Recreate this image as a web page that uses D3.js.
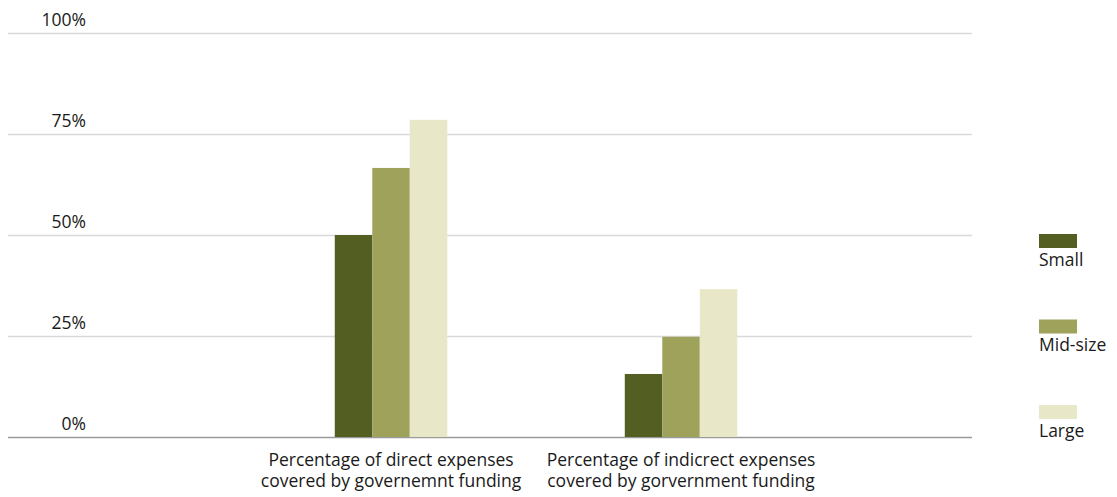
<!DOCTYPE html>
<html>
<head>
<meta charset="utf-8">
<script src="https://cdn.jsdelivr.net/npm/d3@7"></script>
<style>
    body { margin: 0; background: #fff; }
    text { font-family: "Open Sans", "Noto Sans", sans-serif; fill: #1a1a1a; }
</style>
</head>
<body>
<div id="chart"></div>
<script>
// Chart data
const categories = [
    ["Percentage of direct expenses", "covered by governemnt funding"],
    ["Percentage of indicrect expenses", "covered by gorvernment funding"],
];
const seriesNames = ["Small", "Mid-size", "Large"];
const small = [50, 15.6];
const midSize = [66.6, 24.8];
const large = [78.5, 36.6];
const yTicks = [0, 25, 50, 75, 100];

const colors = ["#525e22", "#9ea25b", "#e8e8c8"];
const seriesValues = [small, midSize, large];

const width = 1117;
const height = 497;
const fontSize = "17.5px";

const svg = d3
    .select("#chart")
    .append("svg")
    .attr("width", width)
    .attr("height", height);

// Scales
const y = d3.scaleLinear().domain([0, 100]).range([437, 33]);

const x0 = d3
    .scaleBand()
    .domain(d3.range(categories.length))
    .range([8, 972])
    .paddingInner(0.612)
    .paddingOuter(0.968)
    .align(0.582);

const x1 = d3
    .scaleBand()
    .domain(seriesNames)
    .range([0, x0.bandwidth()]);

// Gridlines and tick labels
const grid = svg.append("g");
grid
    .selectAll("line")
    .data(yTicks)
    .enter()
    .append("line")
    .attr("x1", 8)
    .attr("x2", 972)
    .attr("y1", (d) => y(d) + 0.5)
    .attr("y2", (d) => y(d) + 0.5)
    .attr("stroke", (d) => (d === 0 ? "#9a9a9a" : "#d9d9d9"))
    .attr("stroke-width", 1.5);

grid
    .selectAll("text")
    .data(yTicks)
    .enter()
    .append("text")
    .attr("x", 86)
    .attr("y", (d) => y(d) - 7)
    .attr("text-anchor", "end")
    .style("font-size", fontSize)
    .text((d) => `${d}%`);

// Bars
const groups = svg
    .selectAll("g.group")
    .data(categories)
    .enter()
    .append("g")
    .attr("class", "group")
    .attr("transform", (d, i) => `translate(${x0(i)},0)`);

groups
    .selectAll("rect")
    .data((d, i) => seriesNames.map((name, s) => ({ name, s, value: seriesValues[s][i] })))
    .enter()
    .append("rect")
    .attr("x", (d) => x1(d.name))
    .attr("width", x1.bandwidth())
    .attr("y", (d) => y(d.value))
    .attr("height", (d) => y(0) - y(d.value))
    .attr("fill", (d) => colors[d.s]);

// Category labels
const labels = svg
    .selectAll("text.cat")
    .data(categories)
    .enter()
    .append("text")
    .attr("class", "cat")
    .attr("text-anchor", "middle")
    .attr("transform", (d, i) => `translate(${x0(i) + x0.bandwidth() / 2},0)`)
    .style("font-size", fontSize);

labels
    .selectAll("tspan")
    .data((d) => d)
    .enter()
    .append("tspan")
    .attr("x", 0)
    .attr("y", (d, i) => 466 + i * 20.5)
    .text((d) => d);

// Legend
const legend = svg.append("g").attr("transform", "translate(1039, 234)");

legend
    .selectAll("rect")
    .data(seriesNames)
    .enter()
    .append("rect")
    .attr("x", 0)
    .attr("y", (d, i) => i * 85.5)
    .attr("width", 38)
    .attr("height", 14)
    .attr("fill", (d, i) => colors[i]);

legend
    .selectAll("text")
    .data(seriesNames)
    .enter()
    .append("text")
    .attr("x", 0)
    .attr("y", (d, i) => i * 85.5 + 31.5)
    .style("font-size", fontSize)
    .text((d) => d);
</script>
</body>
</html>
